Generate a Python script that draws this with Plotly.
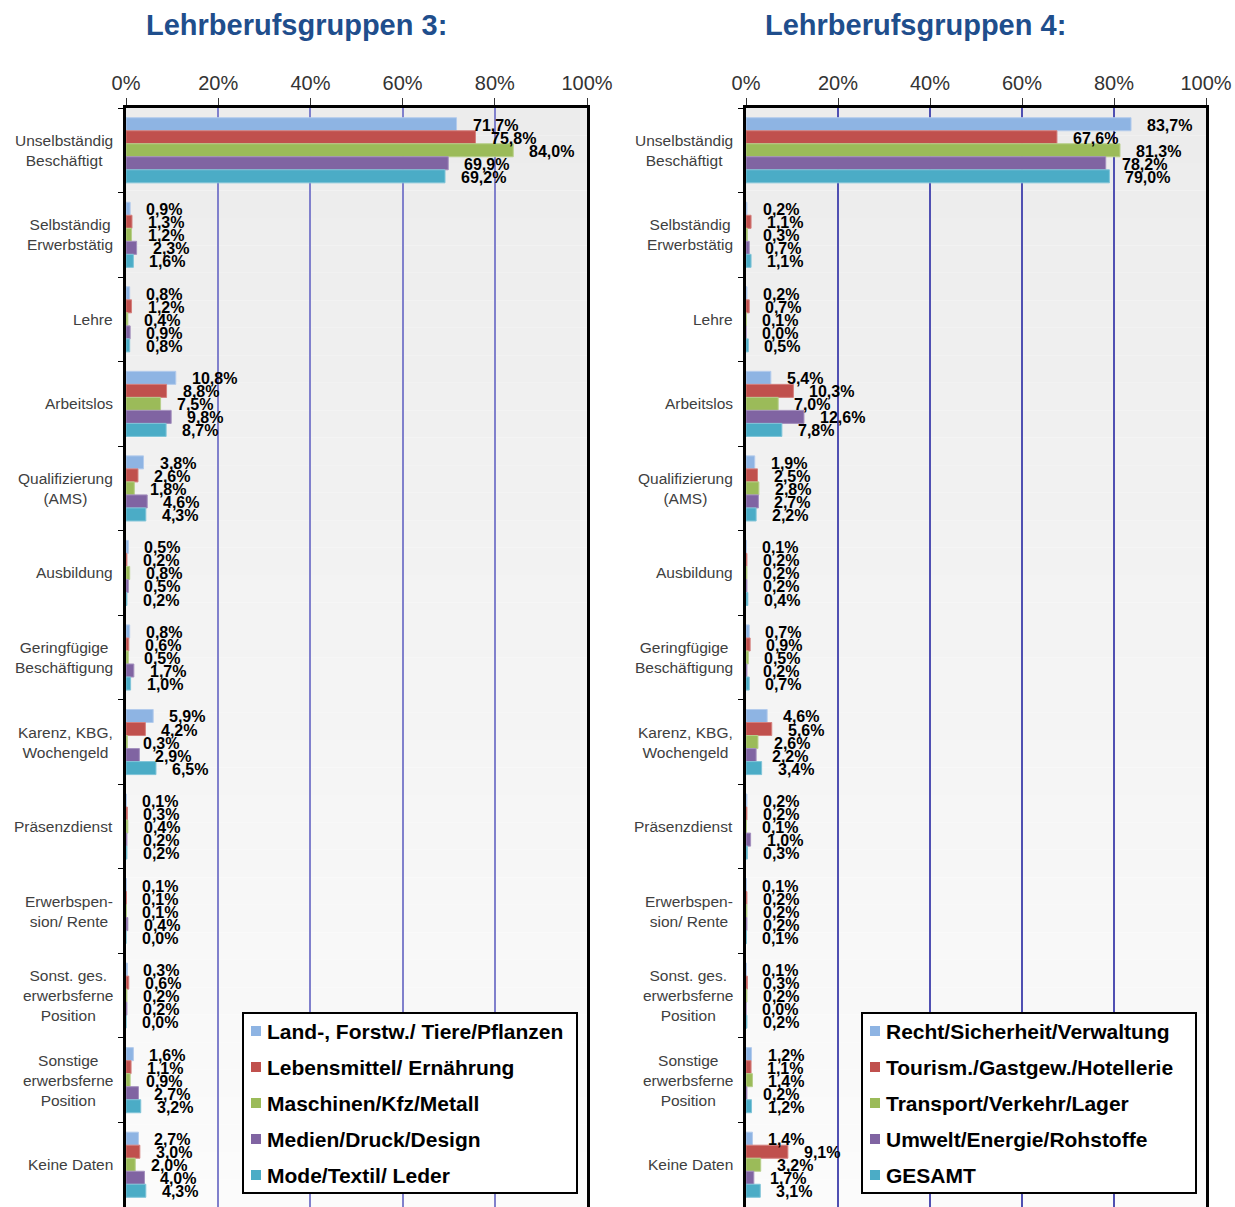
import plotly.graph_objects as go

# categories (top to bottom)
categories = [
    "Unselbständig<br>Beschäftigt",
    "Selbständig<br>Erwerbstätig",
    "Lehre",
    "Arbeitslos",
    "Qualifizierung<br>(AMS)",
    "Ausbildung",
    "Geringfügige<br>Beschäftigung",
    "Karenz, KBG,<br>Wochengeld",
    "Präsenzdienst",
    "Erwerbspen-<br>sion/ Rente",
    "Sonst. ges.<br>erwerbsferne<br>Position",
    "Sonstige<br>erwerbsferne<br>Position",
    "Keine Daten",
]

# Lehrberufsgruppen 3
names_3 = ["Land-, Forstw./ Tiere/Pflanzen", "Lebensmittel/ Ernährung",
           "Maschinen/Kfz/Metall", "Medien/Druck/Design", "Mode/Textil/ Leder"]
land = [71.7, 0.9, 0.8, 10.8, 3.8, 0.5, 0.8, 5.9, 0.1, 0.1, 0.3, 1.6, 2.7]
lebensmittel = [75.8, 1.3, 1.2, 8.8, 2.6, 0.2, 0.6, 4.2, 0.3, 0.1, 0.6, 1.1, 3.0]
maschinen = [84.0, 1.2, 0.4, 7.5, 1.8, 0.8, 0.5, 0.3, 0.4, 0.1, 0.2, 0.9, 2.0]
medien = [69.9, 2.3, 0.9, 9.8, 4.6, 0.5, 1.7, 2.9, 0.2, 0.4, 0.2, 2.7, 4.0]
mode = [69.2, 1.6, 0.8, 8.7, 4.3, 0.2, 1.0, 6.5, 0.2, 0.0, 0.0, 3.2, 4.3]

# Lehrberufsgruppen 4
names_4 = ["Recht/Sicherheit/Verwaltung", "Tourism./Gastgew./Hotellerie",
           "Transport/Verkehr/Lager", "Umwelt/Energie/Rohstoffe", "GESAMT"]
recht = [83.7, 0.2, 0.2, 5.4, 1.9, 0.1, 0.7, 4.6, 0.2, 0.1, 0.1, 1.2, 1.4]
tourism = [67.6, 1.1, 0.7, 10.3, 2.5, 0.2, 0.9, 5.6, 0.2, 0.2, 0.3, 1.1, 9.1]
transport = [81.3, 0.3, 0.1, 7.0, 2.8, 0.2, 0.5, 2.6, 0.1, 0.2, 0.2, 1.4, 3.2]
umwelt = [78.2, 0.7, 0.0, 12.6, 2.7, 0.2, 0.2, 2.2, 1.0, 0.2, 0.0, 0.2, 1.7]
gesamt = [79.0, 1.1, 0.5, 7.8, 2.2, 0.4, 0.7, 3.4, 0.3, 0.1, 0.2, 1.2, 3.1]

titles = ["Lehrberufsgruppen 3:", "Lehrberufsgruppen 4:"]
tick_vals = [0, 20, 40, 60, 80, 100]
tick_text = ["0%", "20%", "40%", "60%", "80%", "100%"]

colors = ["#8eb4e3", "#c0504d", "#9bbb59", "#8064a2", "#4bacc6"]
edge = ["#b3cbec", "#d47f7d", "#b7cf8a", "#a38fbd", "#7fc4d8"]

W, H = 1235, 1207
FONT = "Liberation Sans, Arial, sans-serif"
bargap = 0.23
cat_h = 84.6


def px(x):
    return x / W


def py(y):
    return 1 - y / H


y_top = py(108)
y_bot = max(py(108 + cat_h * len(categories)), 0)
pitch = cat_h * (1 - bargap) / 5

panels = [
    dict(series=[land, lebensmittel, maschinen, medien, mode], names=names_3,
         xa="x", ya="y", dom=[px(126), px(587)], grid="#8080cc", tx=px(296), lx=243),
    dict(series=[recht, tourism, transport, umwelt, gesamt], names=names_4,
         xa="x2", ya="y2", dom=[px(746), px(1206)], grid="#5050b2", tx=px(915), lx=862),
]

fig = go.Figure()
annotations = []
shapes = []


def fmt(v):
    return f"{v:.1f}".replace(".", ",") + "%"


for p_i, p in enumerate(panels):
    # gradient background of the plot area
    n = 40
    for k in range(n):
        t = k / (n - 1)
        c = int(round(236 + (251 - 236) * t))
        shapes.append(dict(
            type="rect", xref=p["xa"] + " domain", yref=p["ya"] + " domain",
            x0=0, x1=1, y0=1 - (k + 1) / n, y1=1 - k / n,
            fillcolor=f"rgb({c},{c},{c})", line=dict(width=0), layer="below",
        ))

    for j, (vals, name) in enumerate(zip(p["series"], p["names"])):
        fig.add_trace(go.Bar(
            x=vals, y=categories, orientation="h", name=name,
            marker=dict(color=colors[j], line=dict(color=edge[j], width=1)),
            xaxis=p["xa"], yaxis=p["ya"], showlegend=False,
            hoverinfo="x+name",
        ))
        for cat, v in zip(categories, vals):
            annotations.append(dict(
                x=v, y=cat, xref=p["xa"], yref=p["ya"], text="<b>" + fmt(v) + "</b>",
                showarrow=False, xanchor="left", yanchor="middle",
                xshift=14, yshift=(2 - j) * pitch - 1,
                font=dict(family=FONT, size=16, color="black"),
            ))

    # category labels (centered, multi-line)
    for cat in categories:
        annotations.append(dict(
            x=0, y=cat, xref=p["xa"] + " domain", yref=p["ya"], text=cat,
            showarrow=False, xanchor="right", yanchor="middle", align="center",
            xshift=-11, font=dict(family=FONT, size=15.5, color="#404040"),
        ))

    # panel title
    annotations.append(dict(
        x=p["tx"], y=py(25), xref="paper", yref="paper", text="<b>" + titles[p_i] + "</b>",
        showarrow=False, xanchor="center", yanchor="middle",
        font=dict(family=FONT, size=29, color="#1f4e8c"),
    ))

    # legend box
    lx, ly, lw, lh, row = p["lx"], 1013, 334, 180, 36
    shapes.append(dict(
        type="rect", xref="paper", yref="paper",
        x0=px(lx), x1=px(lx + lw), y0=py(ly + lh), y1=py(ly),
        fillcolor="white", line=dict(color="black", width=2), layer="above",
    ))
    for j, name in enumerate(p["names"]):
        cy = ly + 18 + j * row
        shapes.append(dict(
            type="rect", xref="paper", yref="paper",
            x0=px(lx + 8), x1=px(lx + 18), y0=py(cy + 5), y1=py(cy - 5),
            fillcolor=colors[j], line=dict(width=0), layer="above",
        ))
        annotations.append(dict(
            x=px(lx + 22), y=py(cy), xref="paper", yref="paper",
            text="<b>" + name + "</b>", showarrow=False,
            xanchor="left", yanchor="middle",
            font=dict(family=FONT, size=21, color="black"),
        ))

axis_x = dict(side="top", range=[0, 100], tickmode="array", tickvals=tick_vals,
              ticktext=tick_text, showgrid=True, gridwidth=1.5, zeroline=False,
              showline=True, mirror=True, linecolor="black", linewidth=2.5,
              ticks="outside", ticklen=7, tickcolor="#333333", tickwidth=1,
              tickfont=dict(family=FONT, size=20, color="#333333"),
              automargin=False, fixedrange=True)
axis_y = dict(type="category", range=[len(categories) - 0.5, -0.5], domain=[y_bot, y_top],
              showticklabels=False, ticks="outside", tickson="boundaries", ticklen=5,
              tickcolor="black", showgrid=False, zeroline=False,
              showline=True, mirror=True, linecolor="black", linewidth=2.5,
              automargin=False, fixedrange=True)

fig.update_layout(
    width=W, height=H,
    margin=dict(l=0, r=0, t=0, b=0, autoexpand=False),
    paper_bgcolor="white", plot_bgcolor="white",
    barmode="group", bargap=bargap, bargroupgap=0,
    xaxis=dict(axis_x, domain=panels[0]["dom"], anchor="y", gridcolor=panels[0]["grid"]),
    yaxis=dict(axis_y, anchor="x"),
    xaxis2=dict(axis_x, domain=panels[1]["dom"], anchor="y2", gridcolor=panels[1]["grid"]),
    yaxis2=dict(axis_y, anchor="x2"),
    annotations=annotations,
    shapes=shapes,
    showlegend=False,
)

# page body has a default 8px margin; remove it so the figure fills the window
fig.write_html("out.html", config={"displayModeBar": False},
               post_script="document.body.style.margin='0';document.body.style.overflow='hidden';")
